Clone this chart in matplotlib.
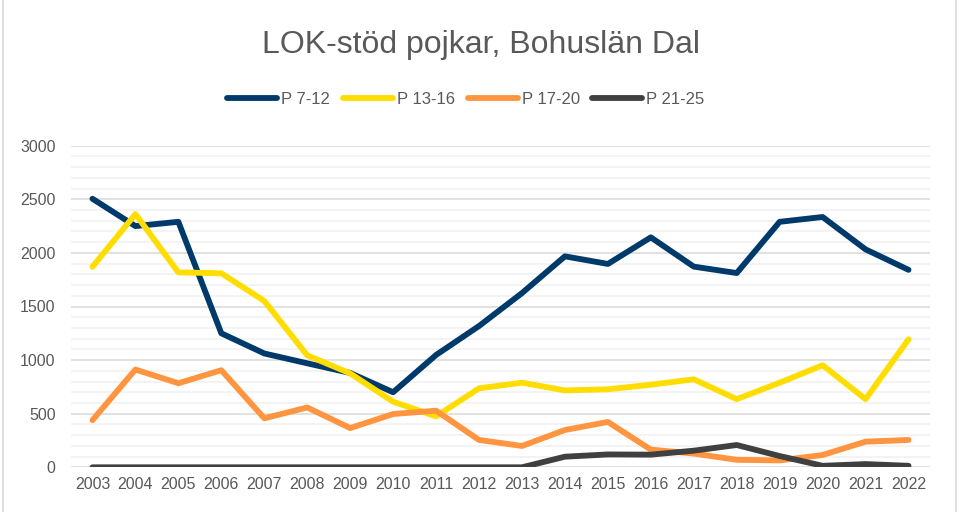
import matplotlib.pyplot as plt
from matplotlib.ticker import MultipleLocator
from matplotlib.lines import Line2D

years = list(range(2003, 2023))

p_7_12 = [2505, 2250, 2290, 1250, 1062, 970, 880, 700, 1048, 1318,
          1625, 1968, 1897, 2145, 1872, 1812, 2290, 2335, 2033, 1842]
p_13_16 = [1870, 2362, 1818, 1810, 1552, 1045, 876, 612, 475, 737,
           789, 717, 728, 770, 821, 636, 789, 952, 636, 1194]
p_17_20 = [440, 912, 784, 906, 457, 558, 366, 497, 528, 255,
           199, 348, 423, 165, 128, 70, 64, 115, 239, 255]
p_21_25 = [0, 0, 0, 0, 0, 0, 0, 0, 0, 0,
           0, 99, 120, 118, 155, 208, 105, 14, 30, 14]

series = [
    ("P 7-12", p_7_12, "#003A6B"),
    ("P 13-16", p_13_16, "#FFDD00"),
    ("P 17-20", p_17_20, "#FF9540"),
    ("P 21-25", p_21_25, "#404040"),
]

text_color = "#595959"
plt.rcParams['font.family'] = ['Liberation Sans', 'DejaVu Sans']

fig = plt.figure(figsize=(9.61, 5.12), dpi=100)
ax = fig.add_axes([71 / 961, 1 - 467.3 / 512, 859 / 961, 321.6 / 512])

for label, vals, col in series:
    ax.plot(years, vals, color=col, lw=4.2, label=label,
            solid_capstyle='round', solid_joinstyle='round')

ax.set_xlim(2002.5, 2022.5)
ax.set_ylim(0, 3000)
ax.set_xticks(years)
ax.yaxis.set_major_locator(MultipleLocator(500))
ax.yaxis.set_minor_locator(MultipleLocator(100))
ax.grid(axis='y', which='major', color='#D9D9D9', lw=1.1)
ax.grid(axis='y', which='minor', color='#F0F0F0', lw=1.1)
ax.set_axisbelow(True)
for s in ax.spines.values():
    s.set_visible(False)
ax.tick_params(axis='both', which='both', length=0, colors=text_color, labelsize=11.5)
ax.tick_params(axis='y', pad=11)
ax.tick_params(axis='x', pad=7)

fig.suptitle("LOK-stöd pojkar, Bohuslän Dal", x=0.5, y=1 - 45 / 512,
             va='center', fontsize=23, color=text_color)

handles = [Line2D([0], [0], color=c, lw=4.2, solid_capstyle='round') for _, _, c in series]
leg = fig.legend(handles, [s[0] for s in series], loc='center',
                 bbox_to_anchor=(466 / 961, 1 - 99 / 512), ncol=4, frameon=False,
                 fontsize=12, handlelength=3.0, handletextpad=0.25, columnspacing=0.75)
for t in leg.get_texts():
    t.set_color(text_color)

# chart border
fig.add_artist(Line2D([3 / 961, 3 / 961], [0, 1], color='#D9D9D9', lw=1.2))
fig.add_artist(Line2D([956 / 961, 956 / 961], [0, 1], color='#D9D9D9', lw=1.2))

fig.savefig("out.png", dpi=100)
